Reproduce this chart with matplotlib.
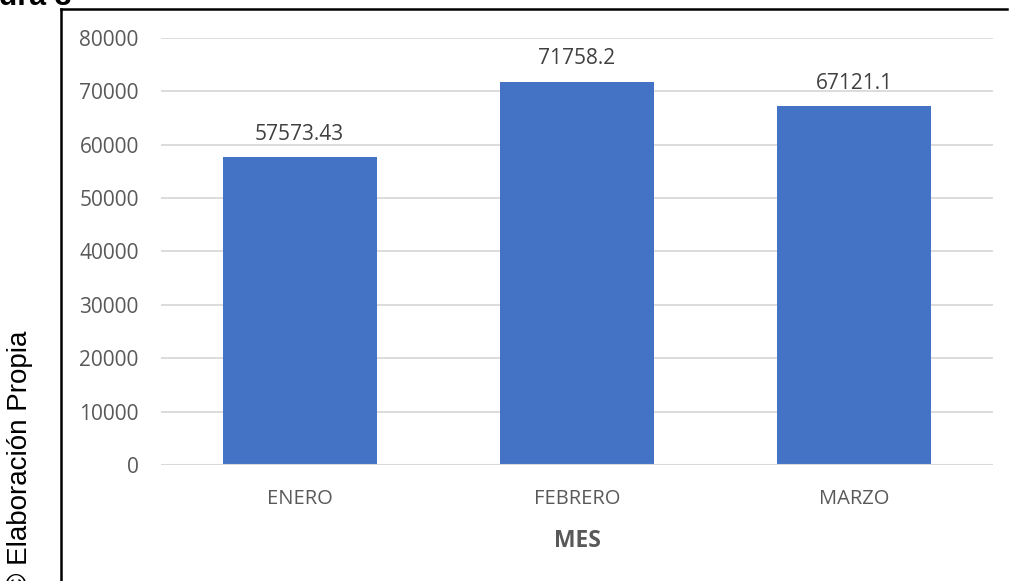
import matplotlib
matplotlib.use("Agg")
import matplotlib.pyplot as plt
from matplotlib.lines import Line2D

categories = ["ENERO", "FEBRERO", "MARZO"]
values = [57573.43, 71758.2, 67121.1]
value_labels = ["57573.43", "71758.2", "67121.1"]
yticks = [0, 10000, 20000, 30000, 40000, 50000, 60000, 70000, 80000]

W, H = 1009, 581
fig = plt.figure(figsize=(W / 100, H / 100), dpi=100)

def px(x0, y0, x1, y1):
    return [x0 / W, 1 - y1 / H, (x1 - x0) / W, (y1 - y0) / H]

ax = fig.add_axes(px(161, 37.7, 993, 465))
chart_font = "Open Sans"
grey = "#595959"

x = range(len(categories))
ax.bar(x, values, width=0.555, color="#4472C4", zorder=3)
ax.set_xlim(-0.5, len(categories) - 0.5)
ax.set_ylim(0, 80000)
ax.set_yticks(yticks)
ax.set_yticklabels([str(v) for v in yticks], fontsize=15, color=grey, family=chart_font)
ax.set_xticks(list(x))
ax.set_xticklabels(categories, fontsize=14.5, color=grey, family=chart_font)
ax.tick_params(axis="both", length=0)
ax.tick_params(axis="y", pad=16)
ax.tick_params(axis="x", pad=17.5)
ax.grid(axis="y", color="#D9D9D9", linewidth=1.3, zorder=0)
for s in ax.spines.values():
    s.set_visible(False)
ax.axhline(0, color="#D9D9D9", linewidth=1.5, zorder=4)

for i, (v, lab) in enumerate(zip(values, value_labels)):
    ax.annotate(lab, (i, v), xytext=(0, 9), textcoords="offset points",
                ha="center", va="bottom", fontsize=15, color="#404040", family=chart_font)

ax.set_xlabel("MES", fontsize=16.5, fontweight="bold", color=grey, family=chart_font, labelpad=14)

# frame
fig.add_artist(Line2D([61 / W, 61 / W], [0, 1 - 9 / H], color="black", linewidth=1.8, transform=fig.transFigure))
fig.add_artist(Line2D([61 / W, 1007 / W], [1 - 9 / H, 1 - 9 / H], color="black", linewidth=1.8, transform=fig.transFigure))

fig.text(20 / W, -12 / H, "© Elaboración Propia", rotation=90, ha="center", va="bottom",
         fontsize=20, family="Liberation Sans", color="black")
fig.text(72 / W, 1 - 5 / H, "Figura 3", ha="right", va="baseline",
         fontsize=22, fontweight="bold", family="Liberation Sans", color="black")

fig.savefig("out.png", dpi=100)
